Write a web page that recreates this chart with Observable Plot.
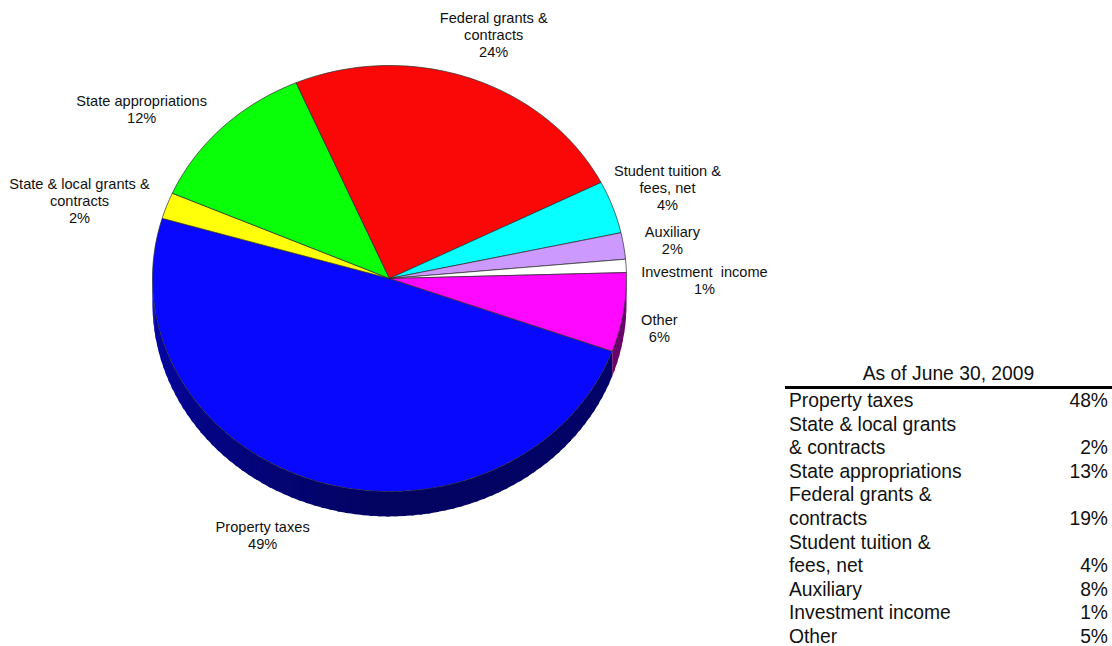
<!DOCTYPE html>
<html>
<head>
<meta charset="utf-8">
<script src="https://cdn.jsdelivr.net/npm/d3@7"></script>
<script src="https://cdn.jsdelivr.net/npm/@observablehq/plot@0.6"></script>
<style>
  html, body { margin: 0; padding: 0; background: #fff; overflow: hidden; }
  #stage { position: relative; width: 1112px; height: 646px; font-family: "Liberation Sans", Arial, sans-serif; }
  #stage svg { position: absolute; left: 0; top: 0; }
  #summary { position: absolute; left: 785px; top: 362px; width: 327px; border-collapse: collapse; font-size: 19.3px; color: #111; }
  #summary caption { height: 24px; line-height: 24px; text-align: center; padding-left: 0; border-bottom: 3px solid #000; }
  #summary td { height: 23.6px; line-height: 23.6px; padding: 0; white-space: nowrap; }
  #summary td:first-child { padding-left: 4px; }
  #summary td:last-child { text-align: right; padding-right: 4px; }
</style>
</head>
<body>
<div id="stage"></div>
<script>
// Revenue shares shown on the pie
const categories = ["Property taxes", "State & local grants & contracts", "State appropriations",
  "Federal grants & contracts", "Student tuition & fees, net", "Auxiliary", "Investment income", "Other"];
const shares = [49, 2, 12, 24, 4, 2, 1, 6];
const sliceLabels = ["Property taxes\n49%", "State & local grants &\ncontracts\n2%", "State appropriations\n12%",
  "Federal grants &\ncontracts\n24%", "Student tuition &\nfees, net\n4%", "Auxiliary\n2%",
  "Investment\u00a0\u00a0income\n1%", "Other\n6%"];
const sliceColors = ["#0808ff", "#ffff0a", "#08ff08", "#fa0808", "#08ffff", "#cc99ff", "#ffffff", "#ff08ff"];

// Comparison table beside the pie
const tableTitle = "As of June 30, 2009";
const tableLabels = ["Property taxes", "State & local grants", "& contracts", "State appropriations",
  "Federal grants &", "contracts", "Student tuition &", "fees, net", "Auxiliary", "Investment income", "Other"];
const tableValues = ["48%", "", "2%", "13%", "", "19%", "", "4%", "8%", "1%", "5%"];

// Pie layout: first slice starts at this bearing, labels sit relative to each slice's middle
const startBearing = 110;
const labelRadius = [1.316, 1.358, 1.313, 1.227, 1.248, 1.207, 1.329, 1.162];
const labelTurn = [5.8, -4.4, -8, 1, -0.4, 0.3, 3.7, 2.3];
const tilt = 0.117; // height of the disc's edge in radius units

const rad = d => d * Math.PI / 180;
const onRim = (b, k = 1, drop = 0) => ({x: k * Math.sin(rad(b)), y: k * Math.cos(rad(b)) - drop});

// Turn the shares into bearing spans
let running = startBearing;
const spans = shares.map((v, i) => {
  const from = running, to = running + v * 3.6;
  running = to;
  return {i, from, to, mid: (from + to) / 2};
});

// Top face: one closed outline per slice
const facePoints = spans.flatMap(s => {
  const steps = Math.max(2, Math.ceil((s.to - s.from) / 2));
  const rim = d3.range(steps + 1).map(j => onRim(s.from + (s.to - s.from) * j / steps));
  return [{x: 0, y: 0}, ...rim, {x: 0, y: 0}].map(p => ({...p, key: s.i, color: sliceColors[s.i]}));
});

// Visible edge of the disc: short shaded strips along the lower half, each
// lapping slightly under the next so no seams show between them
const shade = b => {
  const stops = [[90, 0.42], [180, 0.38], [230, 0.52], [270, 0.7]];
  const n = d3.bisector(d => d[0]).right(stops, b);
  const [a0, v0] = stops[Math.max(0, n - 1)], [a1, v1] = stops[Math.min(stops.length - 1, n)];
  return a1 === a0 ? v0 : v0 + (v1 - v0) * (b - a0) / (a1 - a0);
};
const edgePoints = spans.flatMap(s => {
  const points = [];
  for (const turn of [0, 360]) {
    for (let k = 90; k < 270; k += 2) {
      const lo = Math.max(s.from, k + turn), hi = Math.min(s.to, k + turn + 2.8, 270 + turn);
      if (hi <= lo || k + turn + 2 <= s.from || k + turn >= s.to) continue;
      const c = d3.rgb(sliceColors[s.i]);
      const f = shade(k);
      const color = d3.rgb(c.r * f, c.g * f, c.b * f).formatHex();
      const key = `${s.i}-${k}-${turn}`;
      [onRim(lo), onRim(hi), onRim(hi, 1, tilt), onRim(lo, 1, tilt), onRim(lo)]
        .forEach(p => points.push({...p, key, color}));
    }
  }
  return points;
});

const labels = spans.map(s => ({
  ...onRim(s.mid + labelTurn[s.i], labelRadius[s.i]),
  text: sliceLabels[s.i]
}));

const chart = Plot.plot({
  width: 1112,
  height: 646,
  margin: 0,
  style: {background: "transparent", fontFamily: "'Liberation Sans', Arial, sans-serif"},
  x: {domain: [-1, 1], range: [152, 626], axis: null},
  y: {domain: [-1, 1], range: [491, 65], axis: null},
  color: {type: "identity"},
  marks: [
    Plot.line(edgePoints, {x: "x", y: "y", z: "key", fill: "color", stroke: "none", curve: "linear"}),
    Plot.line(facePoints, {x: "x", y: "y", z: "key", fill: "color", stroke: "#2a2a2a", strokeWidth: 0.7, curve: "linear"}),
    Plot.text(labels, {x: "x", y: "y", text: "text", fontSize: 14.6, lineHeight: 1.165, fill: "#111", textAnchor: "middle", lineAnchor: "middle"})
  ]
});

const stage = document.getElementById("stage");
stage.append(chart);

// Table on the right
const table = document.createElement("table");
table.id = "summary";
const caption = table.createCaption();
caption.textContent = tableTitle;
tableLabels.forEach((name, i) => {
  const row = table.insertRow();
  row.insertCell().textContent = name;
  row.insertCell().textContent = tableValues[i];
});
stage.append(table);
</script>
</body>
</html>
